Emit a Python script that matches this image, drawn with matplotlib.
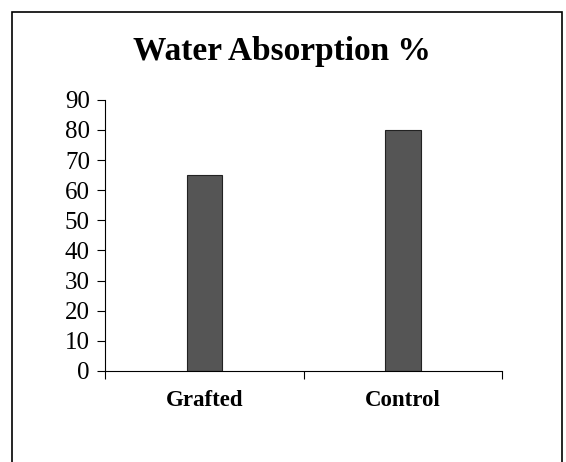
#bar chart of water absorption for grafted vs control
import matplotlib
matplotlib.use("Agg")
import matplotlib.pyplot as plt
from matplotlib.patches import Rectangle

#data
categories = ["Grafted", "Control"]
values = [65, 80]
y_ticks = [0, 10, 20, 30, 40, 50, 60, 70, 80, 90]

plt.rcParams['font.family'] = ['Liberation Serif', 'DejaVu Serif']

fig = plt.figure(figsize=(5.66, 4.62), dpi=100)
ax = fig.add_axes([0.186, 0.197, 0.701, 0.587])

#outer frame around the chart
frame = Rectangle((12 / 566, -0.05), 550 / 566, 1 - 12 / 462 + 0.05, transform=fig.transFigure,
                  fill=False, edgecolor='black', linewidth=1.2)
fig.patches.append(frame)

x = [i + 0.5 for i in range(len(categories))]
ax.bar(x, values, width=0.18, color='#555555', edgecolor='#222222', linewidth=0.8)

ax.set_xlim(0, len(categories))
ax.set_ylim(0, 90)
ax.set_yticks(y_ticks)
ax.tick_params(axis='y', direction='out', length=6, labelsize=18, pad=5)

#category boundaries as ticks, names centred between them
ax.set_xticks(range(len(categories) + 1))
ax.set_xticklabels([])
ax.set_xticks(x, minor=True)
ax.set_xticklabels(categories, minor=True, fontweight='bold', fontsize=16.5)
ax.tick_params(axis='x', which='major', direction='out', length=6)
ax.tick_params(axis='x', which='minor', length=0, pad=14)

for side in ['top', 'right']:
    ax.spines[side].set_visible(False)

fig.text(0.499, 0.888, "Water Absorption %", ha='center', va='center',
         fontsize=24, fontweight='bold')

fig.savefig("out.png", dpi=100)
